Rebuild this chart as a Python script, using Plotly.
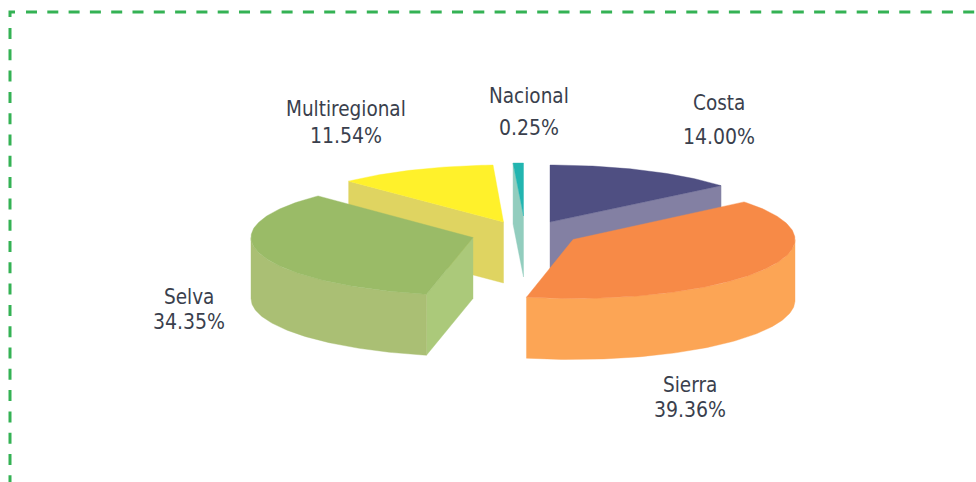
import math
import plotly.graph_objects as go

categories = ["Costa", "Sierra", "Selva", "Multiregional", "Nacional"]
values = [14.00, 39.36, 34.35, 11.54, 0.25]

# Styles and projection, per slice
top_colors = ["#4F4F82", "#F78A47", "#9ABB67", "#FFF12B", "#22B5B0"]
side_colors = ["#8380A3", "#FCA555", "#AABF74", "#DFD461", "#92CDBE"]
face_colors = ["#8380A3", None, "#ABC97A", "#DFD461", "#92CDBE"]
apex_x = [550, 573, 473, 503.5, 523.5]
apex_y = [222, 239.5, 237.5, 222, 216]
radius_y = [57, 59, 58, 57, 53]
RADIUS_X = 222
DEPTH = 61
face_edge = ["end", None, "start", "start", "start"]
draw_order = [4, 0, 3, 2, 1]

label_x = [719, 690, 189, 346, 529]
name_y = [103, 385, 297, 109, 96]
value_y = [137, 410, 322, 136, 128]
TEXT_COLOR = "#3A3F4D"
FONT = "DejaVu Sans Condensed, DejaVu Sans"
BORDER = "#34B254"

# Slice angles from the values; the last slice closes the circle
starts, ends, cum = [], [], 0.0
for i, v in enumerate(values):
    starts.append(cum * 3.6)
    cum += v
    ends.append(360.0 if i == len(values) - 1 else cum * 3.6)


def pt(i, deg, dy=0.0):
    a = math.radians(deg)
    return (apex_x[i] + RADIUS_X * math.sin(a), apex_y[i] - radius_y[i] * math.cos(a) + dy)


def arc(i, a0, a1, dy=0.0):
    n = max(2, int(abs(a1 - a0)) + 1)
    return [pt(i, a0 + (a1 - a0) * k / (n - 1), dy) for k in range(n)]


def poly(points, color):
    pts = list(points) + [points[0]]
    return go.Scatter(x=[p[0] for p in pts], y=[p[1] for p in pts], mode="lines",
                      fill="toself", fillcolor=color, line=dict(width=0.4, color=color),
                      hoverinfo="skip", showlegend=False)


fig = go.Figure()
for i in draw_order:
    if face_edge[i]:
        d = starts[i] if face_edge[i] == "start" else ends[i]
        o = pt(i, d)
        a = (apex_x[i], apex_y[i])
        fig.add_trace(poly([o, a, (a[0], a[1] + DEPTH), (o[0], o[1] + DEPTH)], face_colors[i]))
    lo, hi = max(starts[i], 90.0), min(ends[i], 270.0)
    if lo < hi:
        fig.add_trace(poly(arc(i, lo, hi) + arc(i, hi, lo, DEPTH), side_colors[i]))
    fig.add_trace(poly([(apex_x[i], apex_y[i])] + arc(i, starts[i], ends[i]), top_colors[i]))

annotations = []
for i, name in enumerate(categories):
    for text, yy, size in ((name, name_y[i], 20.5), (f"{values[i]:.2f}%", value_y[i], 21)):
        annotations.append(dict(x=label_x[i], y=yy, text=text, xref="x", yref="y", showarrow=False,
                                xanchor="center", yanchor="middle",
                                font=dict(family=FONT, size=size, color=TEXT_COLOR)))

border = dict(color=BORDER, width=3)
shapes = [
    dict(type="path", path="M10,17 L10,12 L15,12", xref="x", yref="y", line=border),
    dict(type="line", x0=26, x1=980, y0=12, y1=12, xref="x", yref="y",
         line=dict(color=BORDER, width=3, dash="11px,10.3px")),
    dict(type="line", x0=10, x1=10, y0=28, y1=486, xref="x", yref="y",
         line=dict(color=BORDER, width=3, dash="11px,10.3px")),
]

fig.update_layout(
    width=976, height=482, margin=dict(l=0, r=0, t=0, b=0),
    paper_bgcolor="white", plot_bgcolor="white", showlegend=False,
    xaxis=dict(range=[0, 976], visible=False, fixedrange=True),
    yaxis=dict(range=[482, 0], visible=False, fixedrange=True),
    annotations=annotations, shapes=shapes,
)
fig.write_html("out.html", config=dict(displayModeBar=False),
               post_script="document.body.style.margin='0';document.documentElement.style.overflow='hidden';")
